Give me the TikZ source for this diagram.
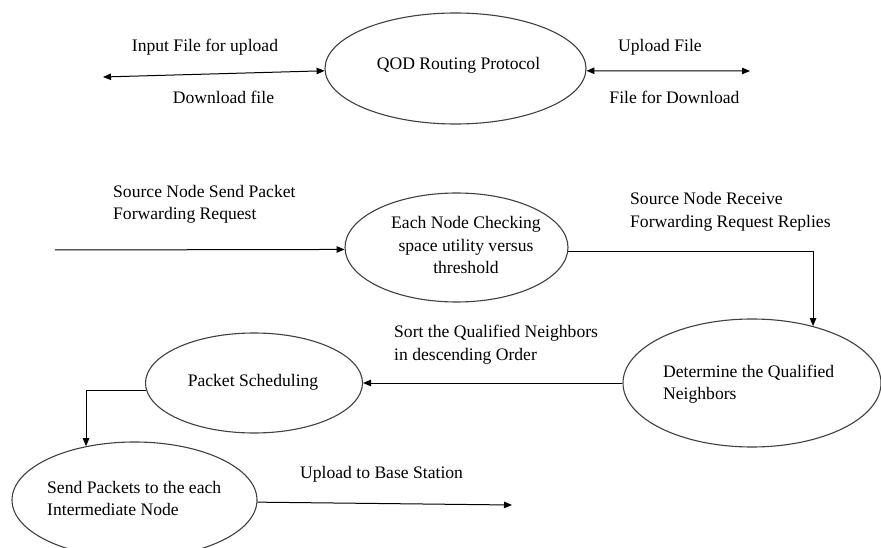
\documentclass[tikz,border=0pt]{standalone}
\usepackage{fontspec}
\setmainfont{Liberation Serif}
\usetikzlibrary{arrows.meta,shapes.geometric}
\begin{document}
\begin{tikzpicture}[x=1pt,y=-1pt,
  proc/.style={shape=ellipse, draw=black!75, line width=1.1pt, inner sep=0pt},
  txt/.style={font=\fontsize{17.6}{22.5}\selectfont, inner sep=0pt},
  flow/.style={line width=1pt, -{Triangle[length=8pt,width=6.5pt]}},
  twoway/.style={line width=1pt, {Triangle[length=8pt,width=6.5pt]}-{Triangle[length=8pt,width=6.5pt]}}]

% canvas
\fill[white] (0,0) rectangle (881,548);
\useasboundingbox (0,0) rectangle (881,548);

% process bubbles
\node[proc, minimum width=261pt, minimum height=111pt] (qod) at (455.5,68.5) {};
\node[txt] (qodtxt) at (458.5,65) {QOD Routing Protocol};

\node[proc, minimum width=223pt, minimum height=109pt] (check) at (456.5,247.5) {};
\node[txt, align=center] (checktxt) at (466,245) {Each Node Checking\\space utility versus\\threshold};

\node[proc, minimum width=258pt, minimum height=128pt] (det) at (752,383) {};
\node[txt, align=left, anchor=west] (dettxt) at (663,384) {Determine the Qualified\\Neighbors};

\node[proc, minimum width=217pt, minimum height=100pt] (sched) at (254,383) {};
\node[txt] (schedtxt) at (253,382) {Packet Scheduling};

\node[proc, minimum width=245pt, minimum height=116pt] (send) at (134.5,500) {};
\node[txt, align=left, anchor=west] (sendtxt) at (47,498.5) {Send Packets to the each\\Intermediate Node};

% flow labels
\node[txt] (lin) at (205,47) {Input File for upload};
\node[txt] (ldown) at (223.5,97) {Download file};
\node[txt] (lup) at (660,47) {Upload File};
\node[txt] (lfd) at (674.5,97) {File for Download};
\node[txt, align=left, anchor=west] (lsend) at (113,204.5) {Source Node Send Packet\\Forwarding Request};
\node[txt, align=left, anchor=west] (lrecv) at (630,212) {Source Node Receive\\Forwarding Request Replies};
\node[txt, align=left, anchor=west] (lsort) at (394,344.5) {Sort the Qualified Neighbors\\in descending Order};
\node[txt, anchor=west] (lbase) at (300,474) {Upload to Base Station};

% free ends
\coordinate (inL) at (103,77);
\coordinate (outR) at (750,71);
\coordinate (src) at (55,250);
\coordinate (bs) at (512,505);

% connectors
\draw[twoway] (inL) -- (qod.181);
\draw[twoway] (qod.-1) -- (outR);
\draw[flow] (src) -- (check.181);
\draw[flow] (check.-2) -| (det.43);
\draw[flow] (det.west) -- (sched.east);
\draw[flow] (sched.184) -| (send.132);
\draw[flow] (send.-1) -- (bs);
\end{tikzpicture}
\end{document}
